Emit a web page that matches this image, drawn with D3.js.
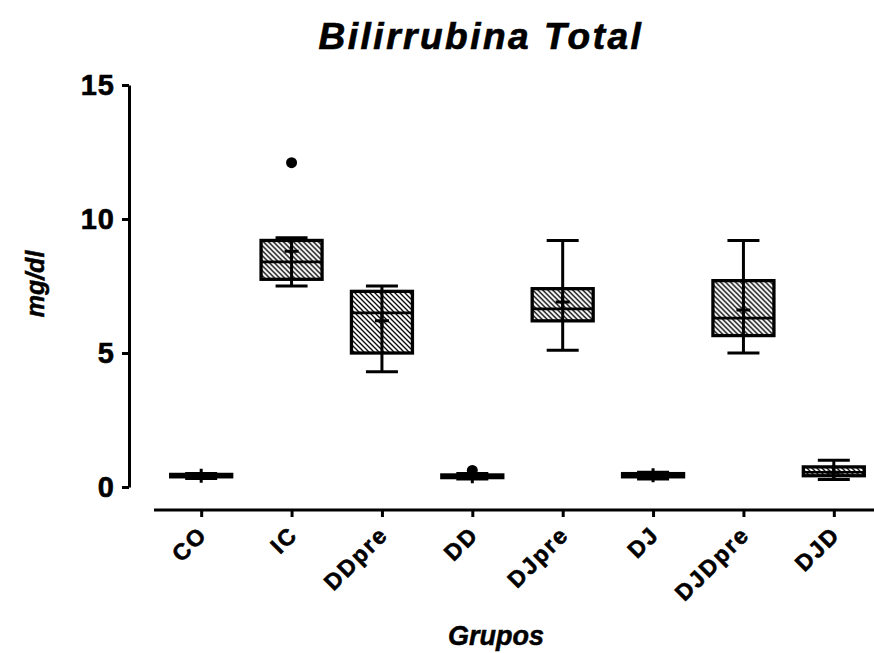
<!DOCTYPE html>
<html>
<head>
<meta charset="utf-8">
<script src="https://cdn.jsdelivr.net/npm/d3@7"></script>
<style>
  body { margin: 0; background: #fff; }
  svg { display: block; font-family: "Liberation Sans", Arial, sans-serif; }
  .tick text { font-weight: bold; }
</style>
</head>
<body>
<div id="chart"></div>
<script>
// box plot values per group
var groups      = ["CO", "IC", "DDpre", "DD", "DJpre", "DJ", "DJDpre", "DJD"];
var whiskerLow  = [0.32, 7.5, 4.3, 0.30, 5.1, 0.30, 5.0, 0.28];
var q1          = [0.38, 7.75, 5.0, 0.35, 6.2, 0.38, 5.65, 0.42];
var median      = [0.42, 8.4, 6.5, 0.40, 6.65, 0.44, 6.3, 0.55];
var q3          = [0.47, 9.2, 7.3, 0.45, 7.4, 0.50, 7.7, 0.75];
var whiskerHigh = [0.50, 9.3, 7.5, 0.50, 9.2, 0.55, 9.2, 1.0];
var mean        = [0.42, 8.8, 6.2, 0.40, 6.9, 0.44, 6.6, 0.55];

var outlierGroups = ["IC", "DD"];
var outlierValues = [12.1, 0.62];

var yTicks = [0, 5, 10, 15];

var width = 874, height = 653;

var svg = d3.select("#chart")
  .append("svg")
    .attr("width", width)
    .attr("height", height);

// hatch for the boxes
var defs = svg.append("defs");
defs.append("pattern")
    .attr("id", "hatch")
    .attr("patternUnits", "userSpaceOnUse")
    .attr("width", 5)
    .attr("height", 5)
  .append("path")
    .attr("d", "M-1,-1 L6,6 M-1,4 L1,6 M4,-1 L6,1")
    .attr("stroke", "#000")
    .attr("stroke-width", 1.3);

var x = d3.scalePoint()
  .domain(groups)
  .range([156, 879])
  .padding(0.5);

var y = d3.scaleLinear()
  .domain([0, 15])
  .range([487, 85]);

// y axis
var yAxis = svg.append("g")
  .attr("transform", "translate(129,0)")
  .call(d3.axisLeft(y).tickValues(yTicks).tickSize(7).tickSizeOuter(0).tickPadding(7));
yAxis.select(".domain").attr("stroke-width", 3);
yAxis.selectAll(".tick line").attr("stroke-width", 3);
yAxis.selectAll(".tick text")
  .style("font-size", "29px")
  .style("letter-spacing", "1px")
  .attr("fill", "#000")
  .attr("stroke", "#000")
  .attr("stroke-width", 0.6);

// x axis (GraphPad style, detached from y axis)
var xAxis = svg.append("g")
  .attr("transform", "translate(0,510)")
  .call(d3.axisBottom(x).tickSize(7).tickSizeOuter(0));
xAxis.select(".domain").attr("d", "M154,0H874").attr("stroke-width", 3);
xAxis.selectAll(".tick line").attr("stroke-width", 3);
xAxis.selectAll(".tick text")
  .style("font-size", "23px")
  .style("letter-spacing", "2px")
  .attr("fill", "#000")
  .attr("stroke", "#000")
  .attr("stroke-width", 0.6)
  .attr("text-anchor", "end")
  .attr("dy", null)
  .attr("y", 0)
  .attr("transform", "translate(7,26) rotate(-45)");

var boxW = 61, capW = 32;

var boxes = svg.selectAll(".box")
  .data(groups)
  .enter()
  .append("g")
    .attr("class", "box")
    .attr("transform", function(d) { return "translate(" + x(d) + ",0)"; });

// whisker stems
boxes.append("line")
  .attr("x1", 0).attr("x2", 0)
  .attr("y1", function(d, i) { return y(whiskerHigh[i]); })
  .attr("y2", function(d, i) { return y(whiskerLow[i]); })
  .attr("stroke", "#000").attr("stroke-width", 3);

// caps
boxes.append("line")
  .attr("x1", -capW / 2).attr("x2", capW / 2)
  .attr("y1", function(d, i) { return y(whiskerHigh[i]); })
  .attr("y2", function(d, i) { return y(whiskerHigh[i]); })
  .attr("stroke", "#000").attr("stroke-width", 3);
boxes.append("line")
  .attr("x1", -capW / 2).attr("x2", capW / 2)
  .attr("y1", function(d, i) { return y(whiskerLow[i]); })
  .attr("y2", function(d, i) { return y(whiskerLow[i]); })
  .attr("stroke", "#000").attr("stroke-width", 3);

// box
boxes.append("rect")
  .attr("x", -boxW / 2)
  .attr("width", boxW)
  .attr("y", function(d, i) { return y(q3[i]); })
  .attr("height", function(d, i) { return y(q1[i]) - y(q3[i]); })
  .attr("fill", "url(#hatch)")
  .attr("stroke", "#000")
  .attr("stroke-width", 3.3);

// median
boxes.append("line")
  .attr("x1", -boxW / 2).attr("x2", boxW / 2)
  .attr("y1", function(d, i) { return y(median[i]); })
  .attr("y2", function(d, i) { return y(median[i]); })
  .attr("stroke", "#000").attr("stroke-width", 2.7);

// mean "+"
boxes.append("path")
  .attr("d", function(d, i) {
    var m = y(mean[i]);
    return "M-7," + m + "H7M0," + (m - 7) + "V" + (m + 7);
  })
  .attr("stroke", "#000").attr("stroke-width", 3);

// outliers
svg.selectAll(".outlier")
  .data(outlierValues)
  .enter()
  .append("circle")
    .attr("class", "outlier")
    .attr("cx", function(d, i) { return x(outlierGroups[i]); })
    .attr("cy", function(d) { return y(d); })
    .attr("r", 5.5)
    .attr("fill", "#000");

// titles
svg.append("text")
  .attr("x", 481).attr("y", 49)
  .attr("text-anchor", "middle")
  .attr("stroke", "#000").attr("stroke-width", 0.7)
  .style("font-size", "37px").style("font-weight", "bold").style("font-style", "italic")
  .style("letter-spacing", "2.5px")
  .text("Bilirrubina Total");

svg.append("text")
  .attr("x", 496).attr("y", 645)
  .attr("text-anchor", "middle")
  .attr("stroke", "#000").attr("stroke-width", 0.5)
  .style("font-size", "27px").style("font-weight", "bold").style("font-style", "italic")
  .text("Grupos");

svg.append("text")
  .attr("transform", "translate(44,284) rotate(-90)")
  .attr("text-anchor", "middle")
  .attr("stroke", "#000").attr("stroke-width", 0.5)
  .style("font-size", "25px").style("font-weight", "bold").style("font-style", "italic")
  .text("mg/dl");
</script>
</body>
</html>
